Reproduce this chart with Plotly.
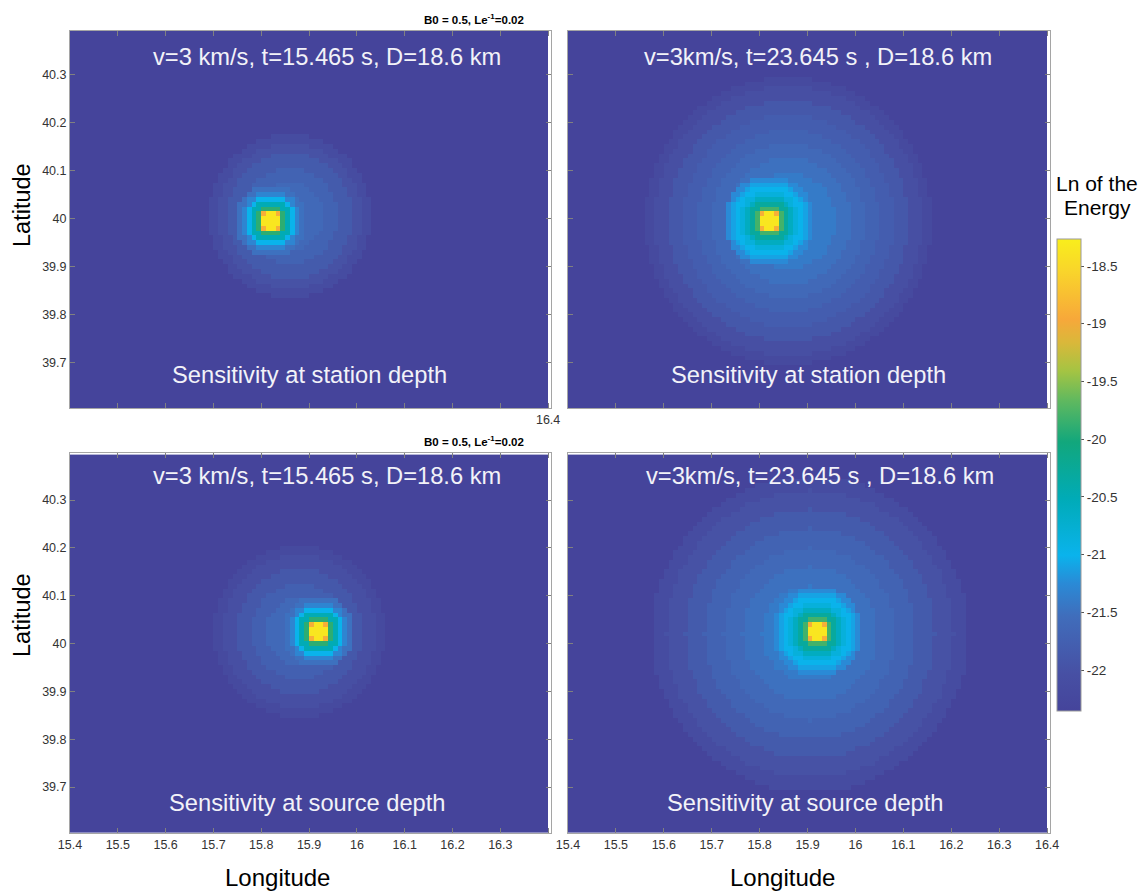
import numpy as np
import plotly.graph_objects as go

PAGE_W, PAGE_H = 1147, 892
BODY = 8  # default page margin around the plot div
W, H = PAGE_W - BODY, PAGE_H - BODY

# ---------------- data ----------------
# grid cell centres (degrees)
LON = np.round(np.arange(15.405, 16.4, 0.01), 3)
LAT = np.round(np.arange(39.61, 40.395, 0.01), 3)
BACKGROUND = -22.35

# top-left: station depth, t = 15.465 s
TL_CORE_CENTER = (15.82, 39.995)
TL_CORE_EDGES = [0.018, 0.025, 0.035, 0.045, 0.055, 0.065, 0.075]
TL_CORE_VALUES = [-18.35, -18.9, -19.9, -20.5, -21.0, -21.3, -21.5]
TL_HALO_CENTER = (15.86, 40.005)
TL_HALO_EDGES = [0.07, 0.10, 0.13, 0.15, 0.17]
TL_HALO_VALUES = [-21.6, -21.7, -21.85, -22.0, -22.15]

# top-right: station depth, t = 23.645 s
TR_CORE_CENTER = (15.82, 39.995)
TR_CORE_EDGES = [0.018, 0.025, 0.035, 0.045, 0.055, 0.065, 0.075, 0.085, 0.095]
TR_CORE_VALUES = [-18.35, -18.9, -19.8, -20.3, -20.6, -20.85, -21.0, -21.1, -21.25]
TR_HALO_CENTER = (15.86, 39.995)
TR_HALO_EDGES = [0.10, 0.13, 0.16, 0.19, 0.22, 0.25, 0.28, 0.30]
TR_HALO_VALUES = [-21.4, -21.5, -21.6, -21.7, -21.8, -21.9, -22.05, -22.2]

# bottom-left: source depth, t = 15.465 s
BL_CORE_CENTER = (15.92, 40.025)
BL_CORE_EDGES = [0.018, 0.025, 0.035, 0.045, 0.055, 0.065, 0.075]
BL_CORE_VALUES = [-18.35, -18.9, -19.9, -20.5, -21.0, -21.3, -21.5]
BL_HALO_CENTER = (15.88, 40.025)
BL_HALO_EDGES = [0.07, 0.10, 0.13, 0.16, 0.18]
BL_HALO_VALUES = [-21.6, -21.75, -21.9, -22.05, -22.2]

# bottom-right: source depth, t = 23.645 s
BR_CORE_CENTER = (15.92, 40.025)
BR_CORE_EDGES = [0.018, 0.025, 0.035, 0.045, 0.055, 0.065, 0.075, 0.085, 0.095]
BR_CORE_VALUES = [-18.35, -18.9, -19.8, -20.3, -20.6, -20.85, -21.0, -21.1, -21.25]
BR_HALO_CENTER = (15.905, 40.02)
BR_HALO_EDGES = [0.10, 0.14, 0.18, 0.22, 0.26, 0.30, 0.33]
BR_HALO_VALUES = [-21.4, -21.5, -21.6, -21.7, -21.85, -22.0, -22.15]

TOP_TEXT_L = "v=3 km/s, t=15.465 s, D=18.6 km"
TOP_TEXT_R = "v=3km/s, t=23.645 s , D=18.6 km"
STATION_TEXT = "Sensitivity at station depth"
SOURCE_TEXT = "Sensitivity at source depth"
PARAM_TEXT = "B0 = 0.5, Le<sup>-1</sup>=0.02"

LON_TICKS = [15.4, 15.5, 15.6, 15.7, 15.8, 15.9, 16.0, 16.1, 16.2, 16.3, 16.4]
LON_LABELS = ["15.4", "15.5", "15.6", "15.7", "15.8", "15.9", "16", "16.1", "16.2", "16.3", "16.4"]
LAT_TICKS = [39.7, 39.8, 39.9, 40.0, 40.1, 40.2, 40.3]
LAT_LABELS = ["39.7", "39.8", "39.9", "40", "40.1", "40.2", "40.3"]
CB_TICKS = [-22, -21.5, -21, -20.5, -20, -19.5, -19, -18.5]
CB_LABELS = ["-22", "-21.5", "-21", "-20.5", "-20", "-19.5", "-19", "-18.5"]
CMIN, CMAX = -22.355, -18.266


def ring_field(center, edges, values):
    dlon = LON[None, :] - center[0]
    dlat = LAT[:, None] - center[1]
    r = np.hypot(dlon, dlat)
    idx = np.searchsorted(np.asarray(edges), r, side="right")
    vals = np.append(np.asarray(values, dtype=float), BACKGROUND)
    return vals[idx]


def panel(core_c, core_e, core_v, halo_c, halo_e, halo_v):
    return np.maximum(ring_field(core_c, core_e, core_v),
                      ring_field(halo_c, halo_e, halo_v))


Z_TL = panel(TL_CORE_CENTER, TL_CORE_EDGES, TL_CORE_VALUES, TL_HALO_CENTER, TL_HALO_EDGES, TL_HALO_VALUES)
Z_TR = panel(TR_CORE_CENTER, TR_CORE_EDGES, TR_CORE_VALUES, TR_HALO_CENTER, TR_HALO_EDGES, TR_HALO_VALUES)
Z_BL = panel(BL_CORE_CENTER, BL_CORE_EDGES, BL_CORE_VALUES, BL_HALO_CENTER, BL_HALO_EDGES, BL_HALO_VALUES)
Z_BR = panel(BR_CORE_CENTER, BR_CORE_EDGES, BR_CORE_VALUES, BR_HALO_CENTER, BR_HALO_EDGES, BR_HALO_VALUES)

# parula-like colour scale as it appears in the picture
COLORSCALE = [
    [0.00, "#45449B"],
    [0.08, "#4750A4"],
    [0.20, "#406DBB"],
    [0.27, "#2A8AD6"],
    [0.33, "#0AB3EC"],
    [0.45, "#00ABB7"],
    [0.57, "#12A77C"],
    [0.66, "#62B95E"],
    [0.72, "#A4C443"],
    [0.78, "#D9B83A"],
    [0.83, "#F7A83A"],
    [0.93, "#F9D42B"],
    [1.00, "#F9EE1C"],
]

FONT = "Liberation Sans, Arial, Helvetica, sans-serif"


def px_x(p):
    return (p - BODY) / W


def px_y(p):
    return 1 - (p - BODY) / H


fig = go.Figure()

panels = [
    (Z_TL, "x", "y"),
    (Z_TR, "x2", "y2"),
    (Z_BL, "x3", "y3"),
    (Z_BR, "x4", "y4"),
]
for z, xa, ya in panels:
    fig.add_trace(go.Heatmap(
        x=LON, y=LAT, z=z, xaxis=xa, yaxis=ya,
        coloraxis="coloraxis", zsmooth=False, hoverinfo="skip",
    ))

X_LEFT = [px_x(70), px_x(551)]
X_RIGHT = [px_x(568), px_x(1050)]
Y_TOP = [px_y(408), px_y(31)]
Y_BOT = [px_y(833), px_y(452.7)]

TICKFONT = dict(family=FONT, size=12.5, color="#333333")
MINOR = dict(ticks="inside", ticklen=5, tickcolor="#808080", tickwidth=1, showgrid=False)

axis_common = dict(
    ticks="inside", ticklen=5, tickcolor="#808080", tickwidth=1,
    showline=True, linecolor="#A5A5A5", linewidth=1, mirror="ticks",
    showgrid=False, zeroline=False, tickfont=TICKFONT,
)

XR = [15.4, 16.406]
TOP_YR = [39.606, 40.390]
BOT_YR = [39.604, 40.399]

fig.update_layout(
    width=W, height=H,
    margin=dict(l=0, r=0, t=0, b=0, autoexpand=False),
    paper_bgcolor="white", plot_bgcolor="white",
    showlegend=False,
    # top-left: only the 16.4 label is visible
    xaxis=dict(domain=X_LEFT, range=XR, anchor="y",
               tickvals=LON_TICKS[-1:], ticktext=LON_LABELS[-1:],
               minor=dict(tickvals=LON_TICKS[:-1], **MINOR), **axis_common),
    yaxis=dict(domain=Y_TOP, range=TOP_YR, anchor="x", tickvals=LAT_TICKS, ticktext=LAT_LABELS, **axis_common),
    xaxis2=dict(domain=X_RIGHT, range=XR, anchor="y2", tickvals=LON_TICKS, showticklabels=False, **axis_common),
    yaxis2=dict(domain=Y_TOP, range=TOP_YR, anchor="x2", tickvals=LAT_TICKS, showticklabels=False, **axis_common),
    # bottom-left: last label hidden by neighbouring panel's first label
    xaxis3=dict(domain=X_LEFT, range=XR, anchor="y3",
                tickvals=LON_TICKS[:-1], ticktext=LON_LABELS[:-1],
                minor=dict(tickvals=LON_TICKS[-1:], **MINOR), **axis_common),
    yaxis3=dict(domain=Y_BOT, range=BOT_YR, anchor="x3", tickvals=LAT_TICKS, ticktext=LAT_LABELS, **axis_common),
    xaxis4=dict(domain=X_RIGHT, range=XR, anchor="y4", tickvals=LON_TICKS, ticktext=LON_LABELS, **axis_common),
    yaxis4=dict(domain=Y_BOT, range=BOT_YR, anchor="x4", tickvals=LAT_TICKS, showticklabels=False, **axis_common),
    coloraxis=dict(
        colorscale=COLORSCALE, cmin=CMIN, cmax=CMAX,
        colorbar=dict(
            x=px_x(1057), xanchor="left", xpad=0,
            y=px_y(475), yanchor="middle", ypad=0,
            thickness=24, thicknessmode="pixels",
            len=472, lenmode="pixels",
            outlinewidth=1, outlinecolor="#9A9A9A",
            tickvals=CB_TICKS, ticktext=CB_LABELS,
            ticks="outside", ticklen=3, tickcolor="#555555",
            tickfont=dict(family=FONT, size=13.5, color="#333333"),
        ),
    ),
)

ann = []


def add_text(text, x, y, size, color="white", bold=False, angle=0, xanchor="center"):
    t = f"<b>{text}</b>" if bold else text
    ann.append(dict(
        text=t, x=px_x(x), y=px_y(y), xref="paper", yref="paper",
        xanchor=xanchor, yanchor="middle", showarrow=False, textangle=angle,
        font=dict(family=FONT, size=size, color=color),
    ))


# panel texts
add_text(TOP_TEXT_L, 327, 57, 23.7, color="#F2F2F8")
add_text(TOP_TEXT_R, 818, 57, 23.7, color="#F2F2F8")
add_text(STATION_TEXT, 309, 375, 23.7, color="#F2F2F8")
add_text(STATION_TEXT, 808, 375, 23.7, color="#F2F2F8")
add_text(TOP_TEXT_L, 327, 476, 23.7, color="#F2F2F8")
add_text(TOP_TEXT_R, 820, 476, 23.7, color="#F2F2F8")
add_text(SOURCE_TEXT, 307, 803, 23.7, color="#F2F2F8")
add_text(SOURCE_TEXT, 805, 803, 23.7, color="#F2F2F8")

# parameter labels
add_text(PARAM_TEXT, 474, 19, 11.5, color="black", bold=True)
add_text(PARAM_TEXT, 474, 441, 11.5, color="black", bold=True)

# axis titles
add_text("Latitude", 22, 205, 23.5, color="black", angle=-90)
add_text("Latitude", 22, 615, 23.5, color="black", angle=-90)
add_text("Longitude", 277, 877, 24, color="black")
add_text("Longitude", 782, 877, 24, color="black")

# colorbar title
add_text("Ln of the", 1097, 184, 21, color="black")
add_text("Energy", 1097, 208, 21, color="black")

fig.update_layout(annotations=ann)

fig.write_html("out.html")
